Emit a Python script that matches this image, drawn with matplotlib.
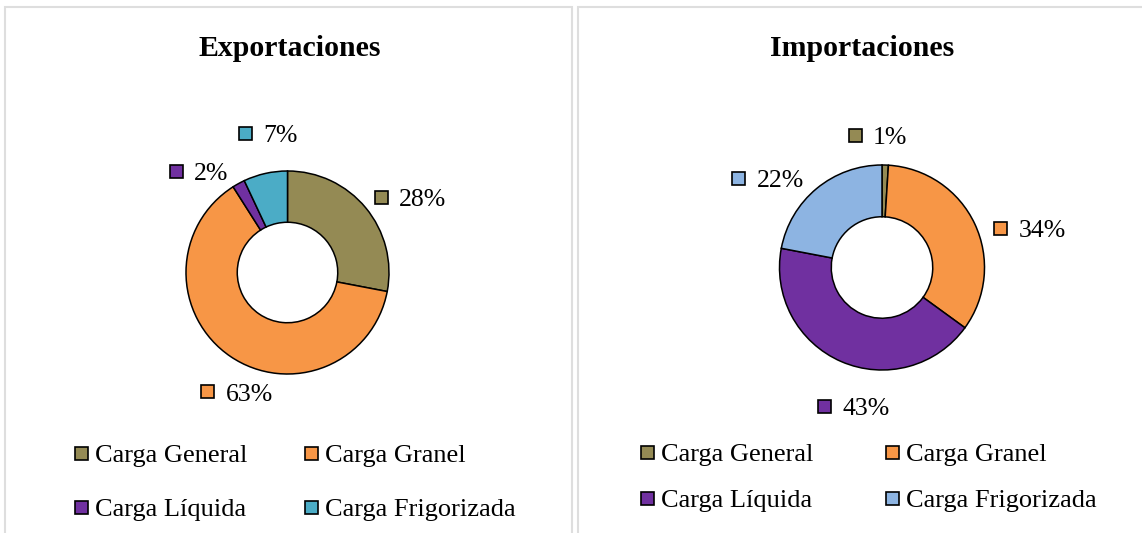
import matplotlib
matplotlib.use("Agg")
import matplotlib.pyplot as plt
from matplotlib.patches import Rectangle
import numpy as np

# ---------------- data ----------------
categories = ["Carga General", "Carga Granel", "Carga Líquida", "Carga Frigorizada"]
export_values = [28, 63, 2, 7]
import_values = [1, 34, 43, 22]
export_colors = ["#948A54", "#F79646", "#7030A0", "#4BACC6"]
import_colors = ["#948A54", "#F79646", "#7030A0", "#8DB4E2"]
titles = ["Exportaciones", "Importaciones"]

# ---------------- layout (pixels, origin top-left) ----------------
W, H = 1142, 533
DPI = 100
FONT = "Liberation Serif"

def fx(x):
    return x / W

def fy(y):
    return 1 - y / H

panels = [
    dict(values=export_values, colors=export_colors, title=titles[0],
         title_x=290, center=(287.5, 272.5), r=101.5,
         lab_ang=[31.4, -112.9, 131.1, 97.8], lab_dist=[1.425, 1.278, 1.32, 1.387],
         leg_marker_x=[75, 305], leg_text_x=[95, 325], leg_rows=[453, 507],
         box=(5, 7, 572, 600)),
    dict(values=import_values, colors=import_colors, title=titles[1],
         title_x=862, center=(882, 267.5), r=102.5,
         lab_ang=[91.7, 14.9, -101.4, 142.0], lab_dist=[1.293, 1.495, 1.379, 1.411],
         leg_marker_x=[641, 886], leg_text_x=[661, 906], leg_rows=[452, 498],
         box=(578, 7, 1200, 600)),
]

fig = plt.figure(figsize=(W / DPI, H / DPI), dpi=DPI)
fig.patch.set_facecolor("white")
renderer = fig.canvas.get_renderer()

LABEL_FS = 18.5
LEGEND_FS = 19
TITLE_FS = 21.5
SQ = 13  # square key size in px


def add_square(x_left, y_center, color):
    rect = Rectangle((fx(x_left), fy(y_center + SQ / 2)), SQ / W, SQ / H,
                     transform=fig.transFigure, facecolor=color,
                     edgecolor="black", linewidth=1.2, zorder=5)
    fig.patches.append(rect)


for p in panels:
    # panel border
    x0, y0, x1, y1 = p["box"]
    fig.patches.append(Rectangle((fx(x0), fy(y1)), (x1 - x0) / W, (y1 - y0) / H,
                                 transform=fig.transFigure, fill=False,
                                 edgecolor="#dedede", linewidth=1.5, zorder=0))
    # title
    title_fs_px = TITLE_FS * DPI / 72
    fig.text(fx(p["title_x"]), fy(46 + 0.331 * title_fs_px), p["title"],
             fontsize=TITLE_FS, fontweight="bold", family=FONT,
             ha="center", va="baseline")

    # donut
    cx, cy = p["center"]
    r = p["r"]
    ax = fig.add_axes([fx(cx - 2 * r), fy(cy + 2 * r), 4 * r / W, 4 * r / H])
    ax.pie(p["values"], colors=p["colors"], startangle=90, counterclock=False,
           radius=1, wedgeprops=dict(width=0.505, edgecolor="black", linewidth=1.1))
    ax.set_aspect("auto")
    ax.set_xlim(-2, 2)
    ax.set_ylim(-2, 2)
    ax.axis("off")

    # data labels: square key + percentage
    total = sum(p["values"])
    lab_fs_px = LABEL_FS * DPI / 72
    for v, col, ang, dist in zip(p["values"], p["colors"], p["lab_ang"], p["lab_dist"]):
        txt = f"{round(100 * v / total)}%"
        gx = cx + dist * r * np.cos(np.radians(ang))
        gy = cy - dist * r * np.sin(np.radians(ang))
        t = fig.text(0, 0, txt, fontsize=LABEL_FS, family=FONT, ha="left", va="baseline")
        w = t.get_window_extent(renderer=renderer).width
        gw = SQ + 11 + w
        left = gx - gw / 2
        add_square(left, gy, col)
        t.set_position((fx(left + SQ + 11), fy(gy + 0.338 * lab_fs_px)))

    # legend (2 x 2)
    leg_fs_px = LEGEND_FS * DPI / 72
    for i, (cat, col) in enumerate(zip(categories, p["colors"])):
        row, colm = divmod(i, 2)
        yc = p["leg_rows"][row]
        add_square(p["leg_marker_x"][colm], yc, col)
        fig.text(fx(p["leg_text_x"][colm]), fy(yc + 0.331 * leg_fs_px), cat,
                 fontsize=LEGEND_FS, family=FONT, ha="left", va="baseline")

fig.savefig("out.png", dpi=DPI, facecolor="white")
